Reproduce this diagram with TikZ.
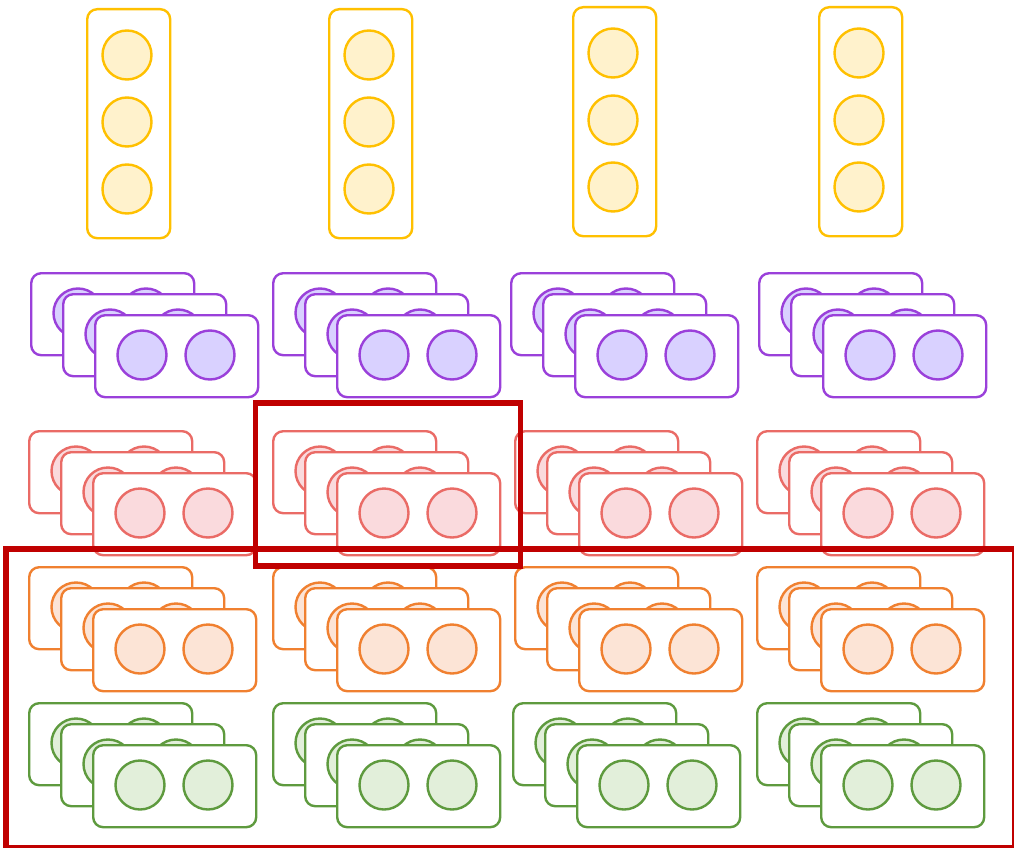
\documentclass[tikz,border=0pt]{standalone}
\usetikzlibrary{calc}
\definecolor{ylS}{HTML}{FFC000}
\definecolor{ylF}{HTML}{FFF2CC}
\definecolor{puS}{HTML}{9A40DA}
\definecolor{puF}{HTML}{D9D1FF}
\definecolor{rdS}{HTML}{EA6B66}
\definecolor{rdF}{HTML}{FADADD}
\definecolor{orS}{HTML}{F08030}
\definecolor{orF}{HTML}{FCE4D6}
\definecolor{grS}{HTML}{5E9A3E}
\definecolor{grF}{HTML}{E2EFDA}
\definecolor{hlS}{HTML}{C00000}
\tikzset{
  box/.style={draw, fill=white, rounded corners=10pt, line width=2.4pt, minimum width=163pt, minimum height=82pt, inner sep=0pt, anchor=north west},
  vbox/.style={draw=ylS, fill=white, rounded corners=10pt, line width=2.4pt, minimum width=83pt, minimum height=229pt, inner sep=0pt, anchor=north west},
  dot/.style={draw, circle, line width=2.4pt, minimum size=49pt, inner sep=0pt},
  hl/.style={draw=hlS, line width=5.8pt, inner sep=0pt, anchor=north west},
}
\newcommand{\mystack}[5]{%
  \foreach \k/\dx/\dy in {b/64/42, m/32/21, f/0/0}{
    \node[box, draw=#4] (#1\k) at (#2-\dx, #3-\dy) {};
    \node[dot, draw=#4, fill=#5] (#1\k L) at ($(#1\k.north west)+(48,41)$) {};
    \node[dot, draw=#4, fill=#5] (#1\k R) at ($(#1\k.north west)+(116,41)$) {};
  }
}
\newcommand{\mycol}[3]{%
  \node[vbox] (#1) at (#2,#3) {};
  \node[dot, draw=ylS, fill=ylF] (#1a) at ($(#1.north west)+(41,47)$) {};
  \node[dot, draw=ylS, fill=ylF] (#1b) at ($(#1.north west)+(41,114)$) {};
  \node[dot, draw=ylS, fill=ylF] (#1c) at ($(#1.north west)+(41,181)$) {};
}
\begin{document}
\begin{tikzpicture}[x=1pt,y=-1pt]
\useasboundingbox (0,0) rectangle (1014,848);
\mycol{y1}{86}{8}
\mycol{y2}{328}{8}
\mycol{y3}{572}{6}
\mycol{y4}{818}{6}
\mystack{pa}{94}{314}{puS}{puF}
\mystack{pb}{336}{314}{puS}{puF}
\mystack{pc}{574}{314}{puS}{puF}
\mystack{pd}{822}{314}{puS}{puF}
\mystack{ra}{92}{472}{rdS}{rdF}
\mystack{rb}{336}{472}{rdS}{rdF}
\mystack{rc}{578}{472}{rdS}{rdF}
\mystack{rd}{820}{472}{rdS}{rdF}
\mystack{oa}{92}{608}{orS}{orF}
\mystack{ob}{336}{608}{orS}{orF}
\mystack{oc}{578}{608}{orS}{orF}
\mystack{od}{820}{608}{orS}{orF}
\mystack{ga}{92}{744}{grS}{grF}
\mystack{gb}{336}{744}{grS}{grF}
\mystack{gc}{576}{744}{grS}{grF}
\mystack{gd}{820}{744}{grS}{grF}
\node[hl, minimum width=265pt, minimum height=163pt] (h1) at (252.5,400) {};
\node[hl, minimum width=1009pt, minimum height=299pt] (h2) at (3,546) {};
\end{tikzpicture}
\end{document}
